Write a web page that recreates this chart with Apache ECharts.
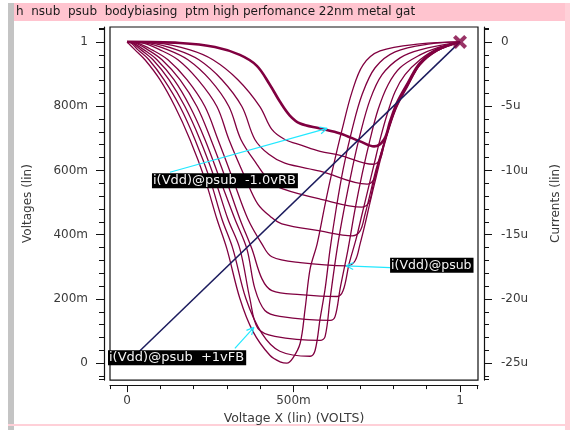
<!DOCTYPE html>
<html><head><meta charset="utf-8">
<script src="https://cdn.jsdelivr.net/npm/echarts@6/dist/echarts.min.js"></script>
<style>html,body{margin:0;padding:0;background:#fff}#c{width:570px;height:430px}</style>
</head><body><div id="c"></div>
<script>
// ---- texts ----
const titleText = 'h  nsub  psub  bodybiasing  ptm high perfomance 22nm metal gat';
const xName = 'Voltage X (lin) (VOLTS)';
const yLeftName = 'Voltages (lin)';
const yRightName = 'Currents (lin)';
const annotationTexts = ['i(Vdd)@psub  -1.0vRB', 'i(Vdd)@psub', 'i(Vdd)@psub  +1vFB'];

// ---- ticks ----
const xTickValues = [0, 0.5, 1];
const xTickLabels = ['0', '500m', '1'];
const vTickValues = [0, 0.2, 0.4, 0.6, 0.8, 1];
const vTickLabels = ['0', '200m', '400m', '600m', '800m', '1'];
const iTickValues = [0, -5, -10, -15, -20, -25];
const iTickLabels = ['0', '-5u', '-10u', '-15u', '-20u', '-25u'];

// ---- data: i(Vdd) in uA vs Voltage X (V), body bias -1.0 (RB) ... +1.0 (FB) ----
const biasNames = ['-1.0vRB', '-0.8v', '-0.6v', '-0.4v', '-0.2v', '0v', '+0.2v', '+0.4v', '+0.6v', '+0.8v', '+1vFB'];
const iRB10 = [[0,0],[0.159,-0.08],[0.264,-0.39],[0.339,-1.01],[0.390,-1.86],[0.429,-3.33],[0.459,-4.64],[0.489,-5.73],[0.520,-6.35],[0.580,-6.73],[0.640,-7.12],[0.700,-7.74],[0.742,-8.13],[0.772,-7.59],[0.790,-6.19],[0.811,-4.72],[0.844,-3.17],[0.880,-1.63],[0.931,-0.62],[1,0]];
const iRB08 = [[0,0],[0.090,-0.08],[0.189,-0.62],[0.258,-1.39],[0.333,-2.94],[0.399,-5.03],[0.435,-6.81],[0.474,-7.59],[0.525,-8.05],[0.580,-8.51],[0.640,-8.82],[0.739,-9.52],[0.760,-9.13],[0.772,-7.97],[0.790,-6.27],[0.811,-4.80],[0.844,-3.17],[0.880,-1.70],[0.931,-0.62],[1,0]];
const iRB06 = [[0,0],[0.070,-0.08],[0.150,-0.62],[0.216,-1.39],[0.285,-2.94],[0.345,-5.03],[0.384,-7.59],[0.426,-8.75],[0.474,-9.44],[0.580,-10.06],[0.721,-11.07],[0.742,-10.68],[0.754,-9.52],[0.772,-7.82],[0.790,-6.27],[0.811,-4.80],[0.844,-3.25],[0.880,-1.70],[0.931,-0.62],[1,0]];
const iRB04 = [[0,0],[0.055,-0.08],[0.123,-0.62],[0.183,-1.39],[0.249,-2.94],[0.306,-5.03],[0.342,-7.59],[0.390,-9.52],[0.429,-10.84],[0.470,-11.46],[0.580,-12.23],[0.706,-12.85],[0.727,-12.46],[0.739,-11.15],[0.754,-9.60],[0.772,-7.89],[0.790,-6.35],[0.811,-4.88],[0.844,-3.25],[0.880,-1.70],[0.931,-0.62],[1,0]];
const iRB02 = [[0,0],[0.045,-0.08],[0.099,-0.62],[0.153,-1.39],[0.213,-2.94],[0.270,-5.03],[0.306,-7.59],[0.357,-10.68],[0.393,-12.62],[0.432,-13.62],[0.465,-14.16],[0.580,-14.71],[0.676,-15.09],[0.700,-14.71],[0.715,-13.39],[0.730,-11.84],[0.748,-9.91],[0.769,-8.13],[0.790,-6.42],[0.811,-4.95],[0.844,-3.33],[0.880,-1.78],[0.931,-0.70],[1,0]];
const iZB   = [[0,0],[0.030,-0.08],[0.075,-0.62],[0.123,-1.39],[0.180,-2.94],[0.234,-5.03],[0.273,-7.59],[0.318,-10.68],[0.363,-13.78],[0.405,-15.71],[0.435,-16.72],[0.520,-17.18],[0.661,-17.42],[0.685,-17.03],[0.700,-15.71],[0.715,-14.16],[0.730,-12.46],[0.748,-10.53],[0.769,-8.36],[0.790,-6.50],[0.811,-5.03],[0.844,-3.41],[0.880,-1.78],[0.931,-0.70],[1,0]];
const iFB02 = [[0,0],[0.024,-0.08],[0.063,-0.62],[0.105,-1.39],[0.159,-2.94],[0.210,-5.03],[0.252,-7.59],[0.297,-10.68],[0.339,-13.78],[0.375,-16.10],[0.405,-18.42],[0.435,-19.35],[0.520,-19.66],[0.631,-19.81],[0.649,-19.35],[0.667,-17.26],[0.688,-15.33],[0.706,-13.39],[0.724,-11.46],[0.742,-9.52],[0.760,-7.59],[0.781,-5.65],[0.805,-3.87],[0.835,-2.55],[0.880,-1.39],[0.931,-0.54],[1,0]];
const iFB04 = [[0,0],[0.018,-0.08],[0.051,-0.62],[0.090,-1.39],[0.141,-2.94],[0.189,-5.03],[0.234,-7.59],[0.279,-10.68],[0.324,-13.78],[0.360,-16.10],[0.384,-19.20],[0.414,-20.90],[0.459,-21.36],[0.610,-21.67],[0.625,-21.36],[0.640,-19.20],[0.664,-16.10],[0.685,-13.00],[0.706,-10.29],[0.730,-7.59],[0.754,-5.26],[0.784,-3.33],[0.820,-2.01],[0.880,-1.01],[0.931,-0.46],[1,0]];
const iFB06 = [[0,0],[0.015,-0.08],[0.042,-0.62],[0.078,-1.39],[0.126,-2.94],[0.174,-5.03],[0.219,-7.59],[0.264,-10.68],[0.303,-13.78],[0.339,-16.10],[0.369,-19.97],[0.393,-22.29],[0.444,-22.91],[0.580,-23.22],[0.595,-22.91],[0.610,-19.97],[0.631,-16.10],[0.652,-13.00],[0.676,-9.91],[0.700,-7.20],[0.730,-4.49],[0.766,-2.55],[0.820,-1.24],[0.880,-0.62],[1,0]];
const iFB08 = [[0,0],[0.012,-0.08],[0.033,-0.62],[0.066,-1.39],[0.111,-2.94],[0.159,-5.03],[0.204,-7.59],[0.249,-10.68],[0.285,-13.78],[0.318,-16.10],[0.357,-19.97],[0.405,-22.68],[0.459,-24.07],[0.550,-24.46],[0.565,-23.99],[0.580,-21.52],[0.595,-19.20],[0.610,-16.10],[0.628,-13.00],[0.649,-9.91],[0.676,-6.81],[0.706,-4.10],[0.745,-2.01],[0.805,-0.77],[0.910,-0.15],[1,0]];
const iFB10 = [[0,0],[0.024,-0.62],[0.054,-1.39],[0.099,-2.94],[0.144,-5.03],[0.189,-7.59],[0.234,-10.68],[0.270,-13.78],[0.300,-16.10],[0.339,-19.97],[0.378,-22.52],[0.429,-24.38],[0.462,-24.92],[0.480,-25.00],[0.498,-24.61],[0.520,-23.45],[0.535,-20.74],[0.550,-17.65],[0.571,-15.71],[0.595,-12.62],[0.619,-9.75],[0.646,-6.81],[0.676,-3.87],[0.709,-1.78],[0.760,-0.70],[0.880,-0.15],[1,0]];
const currentCurves = [iRB10, iRB08, iRB06, iRB04, iRB02, iZB, iFB02, iFB04, iFB06, iFB08, iFB10];
const vDiagonal = [[0,0],[1,1]];      // V(out) vs Voltage X
const endMarker = [[1,0]];            // cursor cross at (1 V, 0 A)

// ---- axis ranges ----
const X_MIN = -0.051, X_MAX = 1.054;
const V_MIN = -0.0526, V_MAX = 1.0464;
const I_MIN = -26.315, I_MAX = 1.16;

function range(a, b, step, skip) {
  const out = [];
  for (let k = Math.round(a / step); k <= Math.round(b / step); k++) {
    const v = +(k * step).toFixed(4);
    if (!skip.some(s => Math.abs(s - v) < 1e-6)) out.push(v);
  }
  return out;
}
const xMinor = range(0, 1, 0.1, xTickValues).concat([X_MIN + 0.002, X_MAX - 0.002]);
const vMinor = range(-0.04, 1.04, 0.04, vTickValues).concat([V_MIN + 0.004, V_MAX - 0.004]);
const iMinor = range(-26, 1, 1, iTickValues).concat([I_MIN + 0.1, I_MAX - 0.1]);

const FONT = '"DejaVu Sans", Verdana, sans-serif';
const txt = '#3a3a3a';
const CURVE = '#800040';

const chart = echarts.init(document.getElementById('c'), null, {renderer: 'canvas'});

function lbl(vals, labels) {
  return v => { const k = vals.findIndex(t => Math.abs(t - v) < 1e-6); return k >= 0 ? labels[k] : ''; };
}

const series = currentCurves.map((d, k) => ({
  name: 'i(Vdd)@psub ' + biasNames[k],
  type: 'line', xAxisIndex: 0, yAxisIndex: 1, data: d,
  showSymbol: false, smooth: 0.35, silent: true,
  lineStyle: {color: CURVE, width: k === 0 ? 2.6 : 1.3},
  z: k === 0 ? 4 : 3
}));
series.push({
  name: 'V', type: 'line', xAxisIndex: 0, yAxisIndex: 0, data: vDiagonal,
  showSymbol: false, lineStyle: {color: '#1c1c5e', width: 1.5}, z: 5, silent: true
});
series.push({
  name: 'cursor', type: 'scatter', xAxisIndex: 0, yAxisIndex: 1, data: endMarker,
  symbol: 'path://M0,2 L2,0 L5,3 L8,0 L10,2 L7,5 L10,8 L8,10 L5,7 L2,10 L0,8 L3,5 Z',
  symbolSize: 14, itemStyle: {color: CURVE}, z: 6, silent: true
});

const axisLineStyle = {show: true, onZero: false, lineStyle: {color: '#111', width: 1.2}};
const noLine = {show: false, onZero: false};
const tickFont = {fontFamily: FONT, fontSize: 12, color: txt};
const option = {
  animation: false,
  backgroundColor: '#fff',
  grid: {left: 110, top: 27, width: 368, height: 355, show: true, borderColor: '#111', borderWidth: 1.2, backgroundColor: 'transparent'},
  xAxis: [
    {type: 'value', min: X_MIN, max: X_MAX, position: 'bottom', offset: 5,
     name: xName, nameLocation: 'middle', nameGap: 26,
     nameTextStyle: {fontFamily: FONT, fontSize: 12.5, color: txt},
     axisLine: axisLineStyle,
     axisTick: {show: true, customValues: xTickValues, length: 7, lineStyle: {color: '#111'}},
     axisLabel: Object.assign({customValues: xTickValues, formatter: lbl(xTickValues, xTickLabels), margin: 10}, tickFont),
     splitLine: {show: false}},
    {type: 'value', min: X_MIN, max: X_MAX, position: 'bottom', offset: 5,
     axisLine: noLine,
     axisTick: {show: true, customValues: xMinor, length: 4, lineStyle: {color: '#111'}},
     axisLabel: {show: false}, splitLine: {show: false}}
  ],
  yAxis: [
    {type: 'value', min: V_MIN, max: V_MAX, position: 'left', offset: 6,
     name: yLeftName, nameLocation: 'middle', nameGap: 70,
     nameTextStyle: {fontFamily: FONT, fontSize: 12, color: txt},
     axisLine: axisLineStyle,
     axisTick: {show: true, customValues: vTickValues, length: 8, lineStyle: {color: '#111'}},
     axisLabel: Object.assign({customValues: vTickValues, formatter: lbl(vTickValues, vTickLabels), margin: 16}, tickFont),
     splitLine: {show: false}},
    {type: 'value', min: I_MIN, max: I_MAX, position: 'right', offset: 6,
     name: yRightName, nameLocation: 'middle', nameGap: 66,
     nameTextStyle: {fontFamily: FONT, fontSize: 12, color: txt},
     axisLine: axisLineStyle,
     axisTick: {show: true, customValues: iTickValues, length: 8, lineStyle: {color: '#111'}},
     axisLabel: Object.assign({customValues: iTickValues, formatter: lbl(iTickValues, iTickLabels), margin: 17}, tickFont),
     splitLine: {show: false}},
    {type: 'value', min: V_MIN, max: V_MAX, position: 'left', offset: 6,
     axisLine: noLine,
     axisTick: {show: true, customValues: vMinor, length: 5, lineStyle: {color: '#111'}},
     axisLabel: {show: false}, splitLine: {show: false}},
    {type: 'value', min: I_MIN, max: I_MAX, position: 'right', offset: 6,
     axisLine: noLine,
     axisTick: {show: true, customValues: iMinor, length: 5, lineStyle: {color: '#111'}},
     axisLabel: {show: false}, splitLine: {show: false}}
  ],
  series: series
};
chart.setOption(option);

// ---- decorations and annotations ----
function P(x, i) { return chart.convertToPixel({xAxisIndex: 0, yAxisIndex: 1}, [x, i]); }
function arrow(from, tip) {
  const a = Math.atan2(tip[1] - from[1], tip[0] - from[0]);
  const L = 8, s = 0.45;
  const stroke = {stroke: '#22e8ff', lineWidth: 1.2};
  return [
    {type: 'line', shape: {x1: from[0], y1: from[1], x2: tip[0], y2: tip[1]}, style: stroke, z: 20},
    {type: 'line', shape: {x1: tip[0], y1: tip[1], x2: tip[0] - L * Math.cos(a - s), y2: tip[1] - L * Math.sin(a - s)}, style: stroke, z: 20},
    {type: 'line', shape: {x1: tip[0], y1: tip[1], x2: tip[0] - L * Math.cos(a + s), y2: tip[1] - L * Math.sin(a + s)}, style: stroke, z: 20}
  ];
}
function box(pt, text, fontSize) {
  return {type: 'text', x: pt[0], y: pt[1], z: 21,
    style: {text: text, fill: '#f4f4f4', font: fontSize + 'px ' + FONT, backgroundColor: '#000', padding: [1, 2, 1, 1]}};
}
const g = [];
g.push({type: 'rect', shape: {x: 14, y: 3, width: 556, height: 18}, style: {fill: '#ffc4cf'}, z: 0});
g.push({type: 'text', x: 16, y: 12, style: {text: titleText, font: '12px ' + FONT, fill: '#1a1a1a', verticalAlign: 'middle'}, z: 1});
g.push({type: 'rect', shape: {x: 8, y: 3, width: 6, height: 427}, style: {fill: '#c4c4c4'}, z: 0});
g.push({type: 'rect', shape: {x: 565, y: 3, width: 5, height: 427}, style: {fill: '#ffd0d8'}, z: 0});
g.push({type: 'rect', shape: {x: 8, y: 424, width: 562, height: 2}, style: {fill: '#ffd0d8'}, z: 0});

const a1 = arrow(P(0.129, -10.14), P(0.601, -6.73));
const a2 = arrow(P(0.790, -17.57), P(0.658, -17.42));
const a3 = arrow(P(0.324, -23.84), P(0.381, -22.21));
g.push(...a1, ...a2, ...a3);
g.push(box(P(0.075, -10.22), annotationTexts[0], 13));
g.push(box(P(0.790, -16.80), annotationTexts[1], 12.5));
g.push(box(P(-0.057, -23.99), annotationTexts[2], 13));
chart.setOption({graphic: g});
</script>
</body></html>
